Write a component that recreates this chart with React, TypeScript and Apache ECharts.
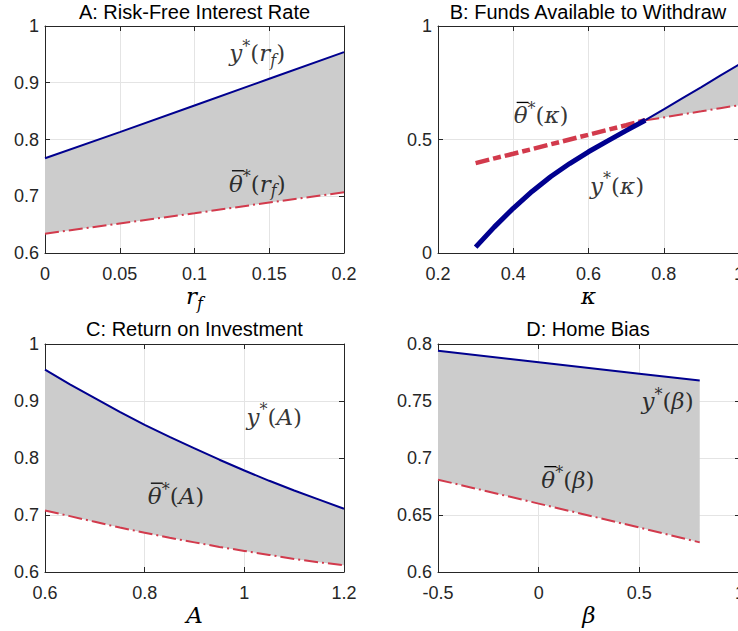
import React, { useEffect, useRef } from "react";
import * as echarts from "echarts";

// Panel A: risk-free rate
const rfX = [0, 0.05, 0.1, 0.15, 0.2];
const rfYstar = [0.767, 0.813, 0.86, 0.907, 0.954];
const rfTheta = [0.634, 0.652, 0.67, 0.689, 0.707];

// Panel B: funds available to withdraw
const kappaX = [0.3, 0.35, 0.4, 0.45, 0.5, 0.55, 0.6, 0.65, 0.7, 0.751, 0.8, 0.85, 0.9, 0.95, 1.0];
const kappaYstar = [0.026, 0.115, 0.197, 0.271, 0.337, 0.394, 0.446, 0.493, 0.539, 0.585, 0.633, 0.682, 0.731, 0.781, 0.83];
const kappaTheta = [0.396, 0.417, 0.437, 0.458, 0.479, 0.5, 0.521, 0.542, 0.563, 0.585, 0.597, 0.611, 0.624, 0.638, 0.651];
const kappaCross = 9; // index where y* meets theta

// Panel C: return on investment
const aX = [0.6, 0.65, 0.7, 0.75, 0.8, 0.85, 0.9, 0.95, 1.0, 1.05, 1.1, 1.15, 1.2];
const aYstar = [0.955, 0.929, 0.905, 0.881, 0.858, 0.837, 0.817, 0.797, 0.778, 0.76, 0.743, 0.727, 0.711];
const aTheta = [0.708, 0.698, 0.688, 0.678, 0.669, 0.66, 0.652, 0.644, 0.637, 0.63, 0.623, 0.617, 0.612];

// Panel D: home bias
const betaX = [-0.5, 0, 0.5, 0.8];
const betaYstar = [0.794, 0.784, 0.774, 0.768];
const betaTheta = [0.681, 0.66, 0.639, 0.626];

const titles = [
  "A: Risk-Free Interest Rate",
  "B: Funds Available to Withdraw",
  "C: Return on Investment",
  "D: Home Bias",
];

const BLUE = "#00008f";
const RED = "#d23a4c";
const FILL = "#cccccc";
const AXC = "#262626";
const SANS = "'Liberation Sans', Arial, sans-serif";
const SERIF = "'DejaVu Serif', 'Liberation Serif', serif";

const rich: Record<string, any> = {
  i: { fontFamily: SERIF, fontStyle: "italic", fontSize: 23, lineHeight: 30, color: "#000" },
  n: { fontFamily: SERIF, fontSize: 23, lineHeight: 30, color: "#000" },
  sup: { fontFamily: SERIF, fontSize: 16, lineHeight: 20, verticalAlign: "top", color: "#000" },
  sub: { fontFamily: SERIF, fontStyle: "italic", fontSize: 16, lineHeight: 16, verticalAlign: "bottom", color: "#000" },
};

const zip = (xs: number[], ys: number[]) => xs.map((x, k) => [x, ys[k]]);

const grids = [
  { left: 45, top: 26, width: 299, height: 227 },
  { left: 438, top: 26, width: 301, height: 227 },
  { left: 45, top: 344, width: 299, height: 228 },
  { left: 438, top: 344, width: 302, height: 228 },
];

const axisCfg = [
  { x: [0, 0.2, 0.05], y: [0.6, 1, 0.1], name: "{i|r}{sub|f}" },
  { x: [0.2, 1, 0.2], y: [0, 1, 0.5], name: "{i|κ}" },
  { x: [0.6, 1.2, 0.2], y: [0.6, 1, 0.1], name: "{i|A}" },
  { x: [-0.5, 1, 0.5], y: [0.6, 0.8, 0.05], name: "{i|β}" },
];

// bar: true -> overline on the first glyph (θ̄)
const annotations = [
  { g: 0, at: [0.142, 0.952], bar: false, text: "{i|y}{sup|*}{n|(}{i|r}{sub|f}{n|)}" },
  { g: 0, at: [0.142, 0.722], bar: true, text: "{i|θ}{sup|*}{n|(}{i|r}{sub|f}{n|)}" },
  { g: 1, at: [0.474, 0.606], bar: true, text: "{i|θ}{sup|*}{n|(}{i|κ}{n|)}" },
  { g: 1, at: [0.676, 0.297], bar: false, text: "{i|y}{sup|*}{n|(}{i|κ}{n|)}" },
  { g: 2, at: [1.06, 0.872], bar: false, text: "{i|y}{sup|*}{n|(}{i|A}{n|)}" },
  { g: 2, at: [0.863, 0.733], bar: true, text: "{i|θ}{sup|*}{n|(}{i|A}{n|)}" },
  { g: 3, at: [0.64, 0.75], bar: false, text: "{i|y}{sup|*}{n|(}{i|β}{n|)}" },
  { g: 3, at: [0.145, 0.681], bar: true, text: "{i|θ}{sup|*}{n|(}{i|β}{n|)}" },
];

function fillSeries(g: number, xs: number[], upper: number[], lower: number[]) {
  return {
    type: "custom",
    xAxisIndex: g,
    yAxisIndex: g,
    silent: true,
    z: 1,
    data: [[xs[0], upper[0]]],
    renderItem: (_p: any, api: any) => {
      const pts: number[][] = [];
      xs.forEach((x, k) => pts.push(api.coord([x, upper[k]])));
      for (let k = xs.length - 1; k >= 0; k--) pts.push(api.coord([xs[k], lower[k]]));
      return { type: "polygon", shape: { points: pts }, style: { fill: FILL } };
    },
  };
}

function lineSeries(g: number, data: number[][], color: string, width: number, dash?: number[]) {
  return {
    type: "line",
    xAxisIndex: g,
    yAxisIndex: g,
    data,
    showSymbol: false,
    symbol: "none",
    silent: true,
    z: 3,
    lineStyle: { color, width, type: dash ? dash : "solid", cap: "butt" },
  };
}

export default function App() {
  const ref = useRef<HTMLDivElement>(null);
  useEffect(() => {
    if (!ref.current) return;
    const chart = echarts.init(ref.current, undefined, { renderer: "svg" });

    const xAxes: any[] = [];
    const yAxes: any[] = [];
    const tick = { inside: true, length: 5, lineStyle: { color: AXC, width: 1 } };
    const line = { show: true, onZero: false, lineStyle: { color: AXC, width: 1 } };
    axisCfg.forEach((c, g) => {
      xAxes.push({
        gridIndex: g, type: "value", min: c.x[0], max: c.x[1], interval: c.x[2], position: "bottom",
        axisLine: line, axisTick: tick,
        axisLabel: { fontSize: 18, fontFamily: SANS, color: AXC, margin: 12, showMaxLabel: true, showMinLabel: true },
        splitLine: { show: true, lineStyle: { color: "#e4e4e4", width: 1 } },
        name: c.name, nameLocation: "middle", nameGap: 28,
        nameTextStyle: { rich },
      });
      yAxes.push({
        gridIndex: g, type: "value", min: c.y[0], max: c.y[1], interval: c.y[2], position: "left",
        axisLine: line, axisTick: tick,
        axisLabel: { fontSize: 18, fontFamily: SANS, color: AXC, margin: 6 },
        splitLine: { show: true, lineStyle: { color: "#e4e4e4", width: 1 } },
      });
    });
    axisCfg.forEach((c, g) => {
      xAxes.push({
        gridIndex: g, type: "value", min: c.x[0], max: c.x[1], interval: c.x[2], position: "top",
        axisLine: line, axisTick: tick, axisLabel: { show: false }, splitLine: { show: false },
      });
      yAxes.push({
        gridIndex: g, type: "value", min: c.y[0], max: c.y[1], interval: c.y[2], position: "right",
        axisLine: line, axisTick: tick, axisLabel: { show: false }, splitLine: { show: false },
      });
    });

    const thinDash = [14, 4, 2, 4];
    const thickDash = [14, 4, 8, 4];

    const series: any[] = [
      // A
      fillSeries(0, rfX, rfYstar, rfTheta),
      lineSeries(0, zip(rfX, rfYstar), BLUE, 2),
      lineSeries(0, zip(rfX, rfTheta), RED, 2, thinDash),
      // B
      fillSeries(1, kappaX.slice(kappaCross), kappaYstar.slice(kappaCross), kappaTheta.slice(kappaCross)),
      lineSeries(1, zip(kappaX, kappaTheta).slice(0, kappaCross + 1), RED, 4.5, thickDash),
      lineSeries(1, zip(kappaX, kappaTheta).slice(kappaCross), RED, 2, thinDash),
      lineSeries(1, zip(kappaX, kappaYstar).slice(0, kappaCross + 1), BLUE, 5),
      lineSeries(1, zip(kappaX, kappaYstar).slice(kappaCross), BLUE, 2),
      // C
      fillSeries(2, aX, aYstar, aTheta),
      lineSeries(2, zip(aX, aYstar), BLUE, 2),
      lineSeries(2, zip(aX, aTheta), RED, 2, thinDash),
      // D
      fillSeries(3, betaX, betaYstar, betaTheta),
      lineSeries(3, zip(betaX, betaYstar), BLUE, 2),
      lineSeries(3, zip(betaX, betaTheta), RED, 2, thinDash),
    ];

    annotations.forEach((a) => {
      series.push({
        type: "scatter",
        xAxisIndex: a.g,
        yAxisIndex: a.g,
        silent: true,
        z: 5,
        symbolSize: 1,
        itemStyle: { color: "rgba(0,0,0,0)" },
        data: [a.at],
        label: { show: true, position: "inside", formatter: a.text, rich },
      });
    });

    const titleGraphics: any[] = titles.map((t, g) => ({
      id: "title" + g,
      type: "text",
      x: grids[g].left + (g % 2 === 1 ? 150 : grids[g].width / 2),
      y: g < 2 ? 12 : 329,
      silent: true,
      style: {
        text: t, textAlign: "center", textVerticalAlign: "middle",
        fontSize: 20, fontFamily: SANS, fill: "#000",
      },
    }));

    chart.setOption({
      animation: false,
      backgroundColor: "#fff",
      grid: grids.map((gr) => ({ ...gr, outerBoundsMode: "none", containLabel: false })),
      xAxis: xAxes,
      yAxis: yAxes,
      series,
      graphic: titleGraphics,
    });

    // overline bars for theta-bar labels, placed from the label anchors
    const ctx = document.createElement("canvas").getContext("2d");
    const bars: any[] = [];
    if (ctx) {
      annotations.forEach((a, k) => {
        if (!a.bar) return;
        const toks = [...a.text.matchAll(/\{(\w+)\|([^}]*)\}/g)];
        const widths = toks.map((m) => {
          const st = rich[m[1]];
          ctx.font = `${st.fontStyle || "normal"} ${st.fontSize}px ${st.fontFamily}`;
          return ctx.measureText(m[2]).width;
        });
        const total = widths.reduce((s, v) => s + v, 0);
        const c = chart.convertToPixel({ gridIndex: a.g }, a.at) as number[];
        const left = c[0] - total / 2;
        bars.push({
          id: "bar" + k,
          type: "line",
          silent: true,
          z: 10,
          shape: { x1: left + 3, y1: c[1] - 13, x2: left + widths[0] + 1, y2: c[1] - 13 },
          style: { stroke: "#000", lineWidth: 1.3 },
        });
      });
    }
    chart.setOption({ graphic: [...titleGraphics, ...bars] });

    return () => chart.dispose();
  }, []);
  return (
    <div
      ref={ref}
      style={{ position: "fixed", left: 0, top: 0, width: 738, height: 631 }}
    />
  );
}
